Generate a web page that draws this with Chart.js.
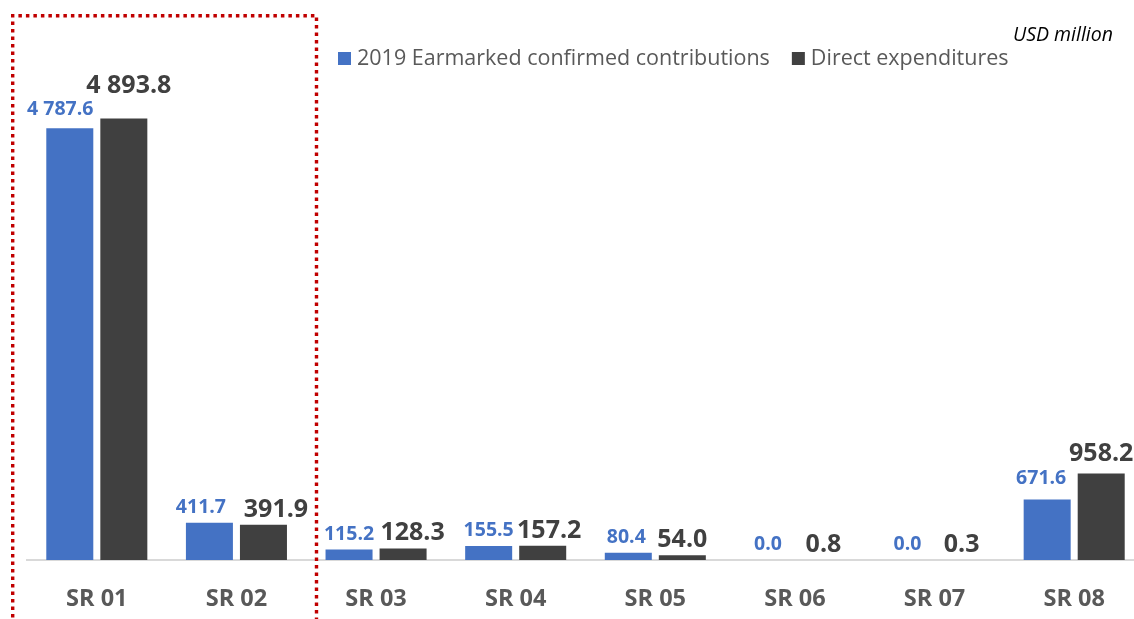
<!DOCTYPE html>
<html>
<head>
<meta charset="utf-8">
<script src="https://cdn.jsdelivr.net/npm/chart.js@4/dist/chart.umd.min.js"></script>
<style>
  html, body { margin: 0; padding: 0; background: #fff; overflow: hidden; }
  #wrap { position: relative; width: 1134px; height: 619px; overflow: hidden; }
  #chart { position: absolute; left: 0; top: 0; }
</style>
</head>
<body>
<div id="wrap">
  <canvas id="chart" width="1144" height="619"></canvas>
</div>
<script>
const categories = ['SR 01', 'SR 02', 'SR 03', 'SR 04', 'SR 05', 'SR 06', 'SR 07', 'SR 08'];
const earmarked = [4787.6, 411.7, 115.2, 155.5, 80.4, 0.0, 0.0, 671.6];
const directExp = [4893.8, 391.9, 128.3, 157.2, 54.0, 0.8, 0.3, 958.2];
const seriesNames = ['2019 Earmarked confirmed contributions', 'Direct expenditures'];
const unitLabel = 'USD million';

const BLUE = '#4472C4';
const DARK = '#404040';
const FONT = '"Open Sans", sans-serif';

function fmt(v) {
  const parts = v.toFixed(1).split('.');
  parts[0] = parts[0].replace(/\B(?=(\d{3})+(?!\d))/g, ' ');
  return parts.join('.');
}

// the labels in the original were dragged apart by hand, per category
const blueShift = [[-9.5, -3], [-8.5, 0], [0, 0], [0, 0], [-2, 0], [0, 0], [0, 0], [-6, -5]];
const darkShift = [[5, -18], [12.5, 0], [9.5, 0], [6.5, 0], [0, 0], [1.5, 0], [0, 0], [0, -5]];

const valueLabels = {
  id: 'valueLabels',
  afterDatasetsDraw(chart) {
    const ctx = chart.ctx;
    const blueMeta = chart.getDatasetMeta(0);
    const darkMeta = chart.getDatasetMeta(1);
    ctx.save();
    ctx.textAlign = 'center';
    ctx.textBaseline = 'alphabetic';
    categories.forEach((c, i) => {
      const b = blueMeta.data[i];
      const d = darkMeta.data[i];

      ctx.font = 'bold 19.5px ' + FONT;
      ctx.fillStyle = BLUE;
      ctx.fillText(fmt(earmarked[i]), b.x + blueShift[i][0], b.y - 10 + blueShift[i][1]);

      ctx.font = 'bold 25px ' + FONT;
      ctx.fillStyle = DARK;
      ctx.fillText(fmt(directExp[i]), d.x + darkShift[i][0], d.y - 8 + darkShift[i][1]);
    });
    ctx.restore();
  }
};

const decorations = {
  id: 'decorations',
  afterDraw(chart) {
    const ctx = chart.ctx;
    ctx.save();
    // red dotted frame around SR 01 - SR 02
    ctx.strokeStyle = '#c00000';
    ctx.lineWidth = 3.4;
    ctx.setLineDash([3.5, 4]);
    ctx.beginPath();
    ctx.moveTo(12.7, 640);
    ctx.lineTo(12.7, 15.7);
    ctx.lineTo(316.5, 15.7);
    ctx.lineTo(316.5, 640);
    ctx.stroke();
    ctx.setLineDash([]);

    ctx.font = 'italic 19.5px ' + FONT;
    ctx.fillStyle = '#000';
    ctx.textAlign = 'right';
    ctx.textBaseline = 'middle';
    ctx.fillText(unitLabel, 1113, 35);

    ctx.font = '21.5px ' + FONT;
    ctx.textAlign = 'left';
    let x = 338;
    const y = 59;
    chart.data.datasets.forEach((ds) => {
      ctx.fillStyle = ds.backgroundColor;
      ctx.fillRect(x, y - 7, 13, 13);
      ctx.fillStyle = '#595959';
      ctx.fillText(ds.label, x + 19, y);
      x += 19 + ctx.measureText(ds.label).width + 22;
    });
    ctx.restore();
  }
};

new Chart(document.getElementById('chart'), {
  type: 'bar',
  data: {
    labels: categories,
    datasets: [
      { label: seriesNames[0], data: earmarked, backgroundColor: BLUE },
      { label: seriesNames[1], data: directExp, backgroundColor: DARK },
    ],
  },
  options: {
    responsive: false,
    animation: false,
    categoryPercentage: 0.774,
    barPercentage: 0.87,
    layout: { padding: { left: 27, right: 0, top: 109, bottom: 0 } },
    plugins: {
      legend: { display: false },
      tooltip: { enabled: false },
    },
    scales: {
      x: {
        grid: { display: false, drawTicks: false },
        border: { display: true, color: '#d9d9d9', width: 2 },
        ticks: {
          color: '#595959',
          font: { family: FONT, size: 23.5, weight: 'bold' },
          padding: 25,
        },
        afterFit(scale) { scale.height = 59; },
      },
      y: {
        display: false,
        min: 0,
        max: 5000,
      },
    },
  },
  plugins: [valueLabels, decorations],
});
</script>
</body>
</html>
